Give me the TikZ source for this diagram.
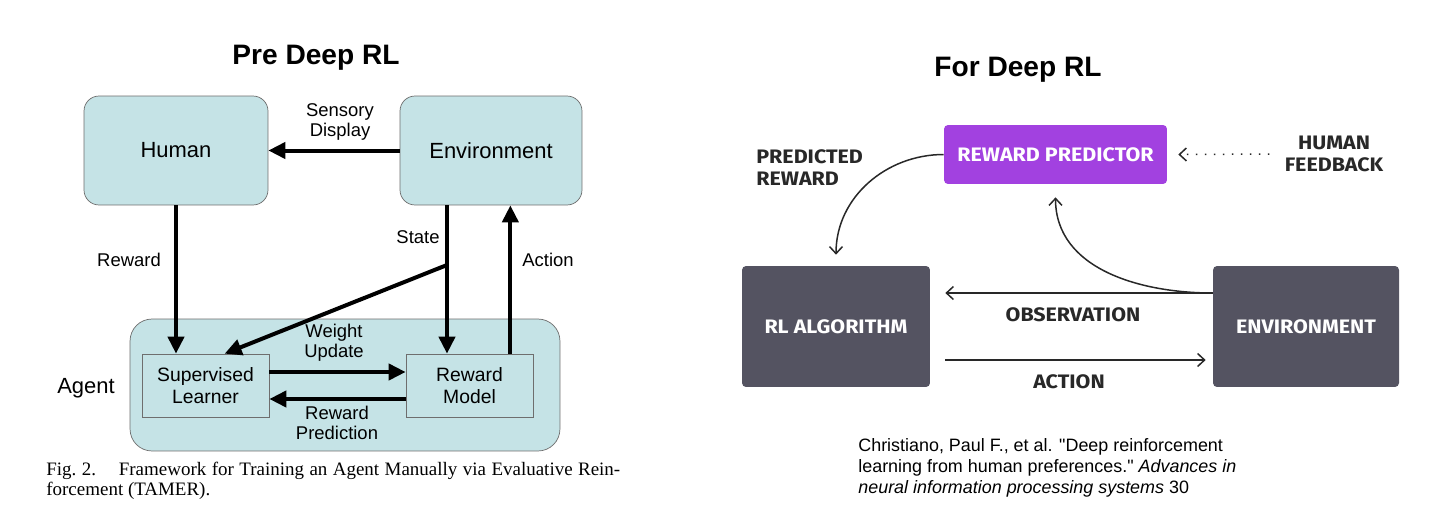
\documentclass[tikz,border=0pt]{standalone}
\usepackage{fontspec}
\setmainfont{Liberation Sans}
\newfontfamily\plainsans{Liberation Sans}
\newfontfamily\serifcap{Liberation Serif}
\newfontfamily\firafont{Fira Sans}[FakeStretch=1.1]
\usetikzlibrary{arrows.meta,calc}
\definecolor{tealbg}{HTML}{C5E3E6}
\definecolor{boxline}{HTML}{6E6E6E}
\definecolor{slate}{HTML}{545361}
\definecolor{purp}{HTML}{A241E0}
\definecolor{ink}{HTML}{282828}
\begin{document}
\begin{tikzpicture}[
		x=0.02cm, y=-0.02cm,
		bigbox/.style  = {draw=boxline, fill=tealbg, rounded corners=0.3cm, minimum width=3.68cm, minimum height=2.18cm, font=\fontsize{12.5}{15}\selectfont},
		inbox/.style   = {draw=boxline, fill=tealbg, minimum width=2.54cm, minimum height=1.26cm, align=center, font=\fontsize{11}{12.5}\selectfont},
		lbl/.style     = {align=center, font=\fontsize{10.5}{11.6}\selectfont},
		fat/.style     = {line width=0.08cm, -{Triangle[length=0.34cm,width=0.32cm]}},
		ttl/.style     = {font=\fontsize{16}{19}\selectfont\bfseries},
		dk/.style      = {fill=slate, rounded corners=0.08cm, text=white, minimum width=3.76cm, minimum height=2.42cm, font=\firafont\bfseries\fontsize{11.1}{12}\selectfont},
		capslbl/.style = {text=ink, inner sep=0, font=\firafont\bfseries\fontsize{11.1}{12.5}\selectfont},
		slim/.style    = {ink, line width=0.03cm, -{Straight Barb[length=0.14cm,width=0.26cm]}}
		]
		\fill[white] (0,0) rectangle (1432,504);
		
		\node[ttl] (pre) at (316,58) {Pre Deep RL};
		\node[ttl] (for) at (1018,70) {For Deep RL};
		
		\node[draw=boxline, fill=tealbg, rounded corners=0.44cm, minimum width=8.6cm, minimum height=2.64cm] (agent) at (345,385) {};
		\node[bigbox]                        (human) at (176,150.5) {Human};
		\node[bigbox, minimum width=3.64cm] (env)   at (491,150.5) {Environment};
		\node[inbox] (sl) at (205.5,385.5) {Supervised\\Learner};
		\node[inbox] (rm) at (469.5,385.5) {Reward\\Model};
		\node[font=\fontsize{12.5}{15}\selectfont] (agentlbl) at (86,388) {Agent};
		\coordinate (split) at (447,265);
		\coordinate (act) at ($(rm.north west)!0.82!(rm.north east)$);
		
		\draw[fat] (env.west) -- (human.east);
		\draw[fat] (human.south) -- (human.south |- sl.north);
		\draw[fat] (split |- env.south) -- (split |- rm.north);
		\draw[fat] (split) -- ($(sl.north west)!0.65!(sl.north east)$);
		\draw[fat] (act) -- (act |- env.south);
		\draw[fat] ([yshift=0.27cm]sl.east) -- ([yshift=0.27cm]rm.west);
		\draw[fat] ([yshift=-0.27cm]rm.west) -- ([yshift=-0.27cm]sl.east);
		
		\node[lbl] (sens)  at (340,122) {Sensory\\Display};
		\node[lbl] (rwd)   at (129,260) {Reward};
		\node[lbl] (st)    at (418,237) {State};
		\node[lbl] (actl)  at (548,260) {Action};
		\node[lbl] (wu)    at (334,343) {Weight\\Update};
		\node[lbl] (rpred) at (337,423) {Reward\\Prediction};
		
		\node[anchor=north west, text width=11.48cm, align=justify, inner sep=0, font=\serifcap\fontsize{10.8}{11.4}\selectfont] (cap) at (46,462)
		{Fig.~2.\hspace{1.2em}Framework for Training an Agent Manually via Evaluative Rein-\linebreak forcement (TAMER).};
		
		\node[dk, fill=purp, minimum width=4.46cm, minimum height=1.18cm] (pred) at (1055.5,154.5) {REWARD PREDICTOR};
		\node[dk]                         (rl)   at (836,326.5)  {RL ALGORITHM};
		\node[dk, minimum width=3.72cm]   (renv) at (1306,326.5) {ENVIRONMENT};
		
		\node[capslbl, anchor=west, align=left]                 (prl)  at (756,168)  {PREDICTED\\REWARD};
		\node[capslbl, align=center, inner xsep=0.3cm]          (hf)   at (1334,154) {HUMAN\\FEEDBACK};
		\node[capslbl]                                          (obs)  at (1073,315) {OBSERVATION};
		\node[capslbl]                                          (actr) at (1069,382) {ACTION};
		
		\draw[slim] (pred.west) to[out=180,in=90] ([yshift=0.22cm]rl.north);
		\draw[slim] ([yshift=0.67cm]renv.west) -- ([xshift=0.3cm,yshift=0.67cm]rl.east);
		\draw[slim] ([yshift=0.67cm]renv.west) to[out=180,in=-90] ([yshift=-0.26cm]pred.south);
		\draw[slim] ([xshift=0.3cm,yshift=-0.67cm]rl.east) -- ([xshift=-0.14cm,yshift=-0.67cm]renv.west);
		\draw[slim, dash pattern=on 0.03cm off 0.15cm] (hf.west) -- ([xshift=0.22cm]pred.east);
		
		\node[anchor=north west, inner sep=0, align=left, font=\plainsans\fontsize{10.2}{11.9}\selectfont] (cite) at (858,438)
		{Christiano, Paul F., et al. "Deep reinforcement\\learning from human preferences." \textit{Advances in}\\\textit{neural information processing systems} 30};
	\end{tikzpicture}
\end{document}
